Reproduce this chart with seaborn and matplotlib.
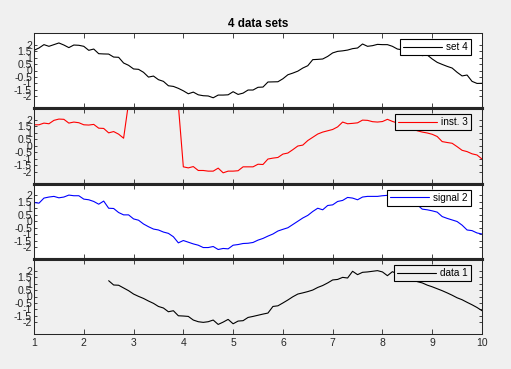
import numpy as np
import pandas as pd
import matplotlib
matplotlib.use("Agg")
import matplotlib.pyplot as plt
import seaborn as sns

# ---------------- data ----------------
x_full = [round(1.0 + 0.1 * i, 1) for i in range(91)]

set4 = [1.56, 1.74, 2.00, 1.87, 2.00, 2.13, 1.97, 1.77, 1.97, 1.95,
        1.87, 1.56, 1.66, 1.30, 1.28, 1.27, 1.04, 1.02, 0.58, 0.40,
        0.12, 0.09, -0.14, -0.51, -0.43, -0.71, -0.84, -1.18, -1.23, -1.38,
        -1.57, -1.80, -1.67, -1.88, -1.95, -1.97, -2.11, -1.90, -1.90, -1.88,
        -1.64, -1.85, -1.75, -1.51, -1.51, -1.30, -1.28, -0.89, -0.88, -0.87,
        -0.64, -0.33, -0.20, -0.05, 0.19, 0.37, 0.84, 0.86, 0.89, 1.09,
        1.36, 1.48, 1.52, 1.58, 1.69, 1.74, 2.05, 1.87, 1.92, 2.02,
        2.00, 2.00, 1.87, 1.66, 1.60, 1.52, 1.42, 1.30, 1.15, 1.20,
        0.89, 0.63, 0.47, 0.32, 0.19, -0.14, -0.42, -0.35, -0.84, -1.00,
        -0.99]

inst3 = [1.61, 1.61, 1.74, 1.69, 1.95, 2.05, 2.03, 1.74, 1.82, 1.77,
         1.61, 1.59, 1.64, 1.35, 1.33, 0.99, 1.09, 0.89, 0.58, 3.30,
         3.40, 3.50, 3.40, 3.60, 3.50, 3.40, 3.50, 3.30, 3.40, 3.10,
         -1.62, -1.70, -1.60, -1.90, -1.90, -1.95, -1.95, -1.72, -2.08, -1.95,
         -1.95, -1.92, -1.62, -1.62, -1.62, -1.42, -1.44, -1.02, -0.95, -0.90,
         -0.64, -0.56, -0.30, -0.02, 0.05, 0.40, 0.65, 0.90, 1.05, 1.15,
         1.25, 1.45, 1.82, 1.69, 1.72, 1.76, 1.97, 1.95, 1.85, 1.82,
         1.86, 2.03, 1.87, 1.75, 1.60, 1.45, 1.30, 1.15, 1.05, 0.98,
         0.88, 0.71, 0.32, 0.25, 0.19, -0.07, -0.35, -0.45, -0.62, -0.71,
         -1.02]

signal2 = [1.44, 1.39, 1.78, 1.86, 1.91, 1.80, 1.86, 2.01, 1.96, 1.96,
           1.70, 1.65, 1.52, 1.31, 1.55, 1.00, 0.98, 0.67, 0.49, 0.49,
           0.18, 0.08, -0.21, -0.42, -0.60, -0.67, -0.83, -0.93, -1.19, -1.66,
           -1.48, -1.61, -1.74, -1.84, -2.02, -2.02, -1.94, -2.17, -2.09, -2.12,
           -1.84, -1.79, -1.71, -1.69, -1.63, -1.45, -1.32, -1.14, -0.98, -0.75,
           -0.62, -0.50, -0.25, 0.00, 0.25, 0.45, 0.75, 1.00, 0.88, 1.21,
           1.26, 1.52, 1.60, 1.83, 1.78, 1.65, 1.86, 1.91, 1.91, 1.91,
           1.96, 1.99, 1.90, 1.80, 1.70, 1.55, 1.40, 1.26, 0.93, 0.88,
           0.80, 0.70, 0.36, 0.22, 0.10, -0.02, -0.30, -0.67, -0.72, -0.90,
           -0.98]

x_data1 = x_full[15:]
data1 = [1.22, 0.89, 0.87, 0.66, 0.45,
         0.19, 0.01, -0.15, -0.35, -0.53, -0.77, -0.89, -1.18, -1.10, -1.49,
         -1.51, -1.54, -1.82, -1.95, -2.00, -1.95, -1.82, -2.16, -1.98, -1.77,
         -2.11, -1.90, -1.87, -1.62, -1.54, -1.45, -1.36, -1.28, -0.77, -0.72,
         -0.50, -0.27, -0.02, 0.19, 0.28, 0.38, 0.50, 0.70, 0.85, 1.05,
         1.28, 1.32, 1.48, 1.43, 1.95, 1.69, 1.87, 1.90, 1.95, 2.00,
         1.90, 1.61, 1.92, 1.75, 1.60, 1.45, 1.30, 1.15, 1.05, 0.88,
         0.75, 0.60, 0.45, 0.28, 0.10, -0.10, -0.25, -0.45, -0.64, -0.85,
         -1.10]

series_labels = ["set 4", "inst. 3", "signal 2", "data 1"]
series_colors = ["#000000", "#ff0000", "#0000ff", "#000000"]
series_x = [x_full, x_full, x_full, x_data1]
series_y = [set4, inst3, signal2, data1]
panel_bg = ["#ffffff", "#f0f0f0", "#ffffff", "#f0f0f0"]

x_ticks = list(range(1, 11))
y_ticks = [2, 1.5, 1, 0.5, 0, -0.5, -1, -1.5, -2]
y_tick_labels = ["2", "1.5", "1", "0.5", "0", "-0.5", "-1", "-1.5", "-2"]
title = "4 data sets"

# ---------------- figure ----------------
sns.set_style("ticks")
plt.rcParams["font.family"] = ["Liberation Sans", "DejaVu Sans"]

W, H = 511, 369
fig = plt.figure(figsize=(W / 100, H / 100), dpi=100, facecolor="#f0f0f0")

left = 34 / W
width = (482 - 34) / W
tops_px = [33, 108, 183.5, 259, 334]
axes = []
for i in range(4):
    bottom = 1 - tops_px[i + 1] / H
    height = (tops_px[i + 1] - tops_px[i]) / H
    ax = fig.add_axes([left, bottom, width, height])
    axes.append(ax)

spine_col = "#262626"
for i, ax in enumerate(axes):
    df = pd.DataFrame({"x": series_x[i], "y": series_y[i]})
    sns.lineplot(data=df, x="x", y="y", ax=ax, color=series_colors[i],
                 linewidth=0.8, estimator=None, sort=False,
                 label=series_labels[i])
    ax.set_facecolor(panel_bg[i])
    ax.set_xlim(1, 10)
    ax.set_ylim(-2.9, 2.9)
    ax.set_xticks(x_ticks)
    ax.set_yticks(y_ticks)
    ax.set_yticklabels(y_tick_labels)
    ax.set_xlabel("")
    ax.set_ylabel("")
    ax.tick_params(axis="both", direction="in", top=True, right=True,
                   colors=spine_col, labelsize=7.5, width=0.6)
    ax.tick_params(axis="x", length=3.6, pad=3)
    ax.tick_params(axis="y", length=2.4, pad=1.5)
    if i < 3:
        ax.tick_params(axis="x", labelbottom=False)
    for s in ax.spines.values():
        s.set_visible(True)
        s.set_color(spine_col)
        s.set_linewidth(0.75)
    if i < 3:
        ax.spines["bottom"].set_linewidth(2.2)
    if i > 0:
        ax.spines["top"].set_linewidth(2.2)
    ax.spines["bottom"].set_zorder(5)
    ax.spines["top"].set_zorder(5)

    leg = ax.legend(loc="upper right", bbox_to_anchor=(0.9754, 0.92),
                    borderaxespad=0, fontsize=7.2, frameon=True,
                    fancybox=False, shadow=False, framealpha=1,
                    facecolor=panel_bg[i], edgecolor="#000000",
                    handlelength=3.9, handletextpad=0.45, borderpad=0.3)
    leg.get_frame().set_linewidth(0.8)
    for t in leg.get_texts():
        t.set_color("#000000")

axes[0].set_title(title, fontsize=8.4, fontweight="bold", pad=4.3,
                  color="#000000")

fig.savefig("out.png", dpi=100, facecolor=fig.get_facecolor())
